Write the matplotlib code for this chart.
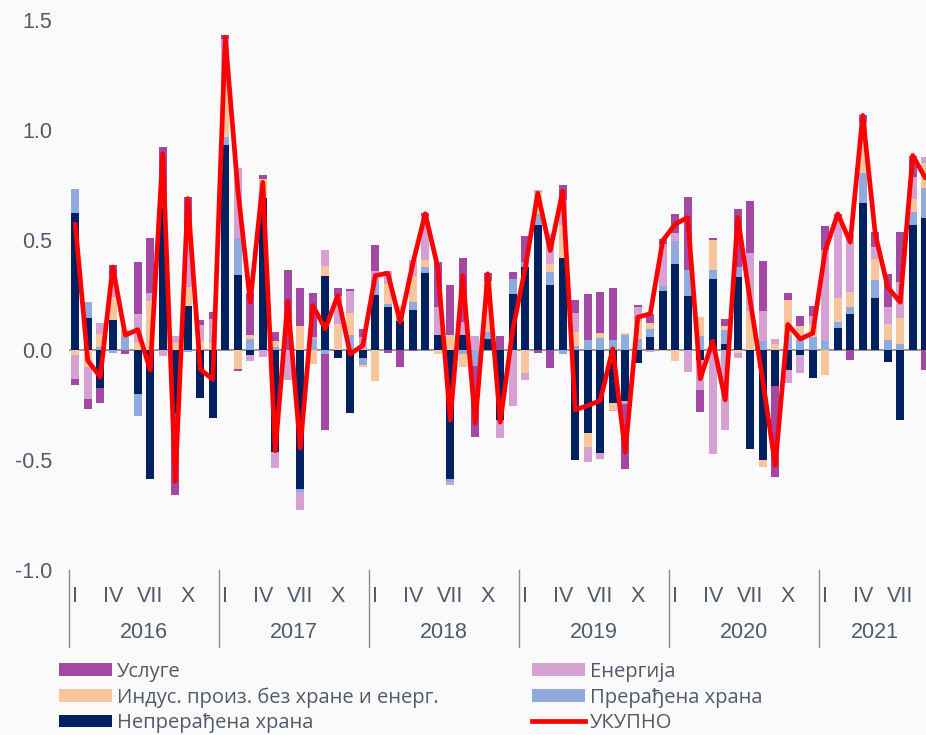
import matplotlib
matplotlib.use("Agg")
import matplotlib.pyplot as plt
import numpy as np
from matplotlib.patches import Rectangle
from matplotlib.lines import Line2D
from matplotlib.transforms import blended_transform_factory

plt.rcParams['font.family'] = ['Liberation Sans', 'DejaVu Sans']

years = ['2016', '2017', '2018', '2019', '2020', '2021']
months_per_year = [12, 12, 12, 12, 12, 9]
month_labels = ['I', 'IV', 'VII', 'X']
month_label_pos = [0, 3, 6, 9]

series_names = ['Непрерађена храна', 'Прерађена храна', 'Индус. произ. без хране и енерг.', 'Енергија', 'Услуге']
total_name = 'УКУПНО'

# Непрерађена храна
unprocessed = [
    0.62, 0.145, -0.175, 0.135, 0.0, -0.20, -0.59, 0.65, -0.29, 0.20, -0.22, -0.31,
    0.93, 0.34, -0.027, 0.69, -0.467, 0.0, -0.636, 0.0, 0.333, -0.04, -0.29, -0.04,
    0.25, 0.195, 0.13, 0.18, 0.347, 0.068, -0.588, 0.068, 0.0, 0.048, -0.32, 0.253,
    0.377, 0.564, 0.295, 0.417, -0.5, -0.379, -0.47, -0.244, -0.232, -0.062, 0.059, 0.265,
    0.39, 0.245, -0.047, 0.32, 0.023, 0.329, -0.45, -0.5, -0.168, -0.092, -0.027, -0.13,
    0.0, 0.1, 0.162, 0.665, 0.235, -0.058, -0.32, 0.568, 0.6,
]
# Прерађена храна
processed = [
    0.11, 0.07, 0.012, -0.015, 0.058, -0.10, 0.0, 0.0, 0.0, -0.01, 0.0, 0.0,
    0.035, 0.167, 0.05, 0.0, 0.01, 0.0, -0.012, 0.048, -0.02, 0.0, 0.064, -0.03,
    0.056, 0.012, 0.02, 0.035, 0.03, 0.0, -0.015, -0.02, -0.073, 0.03, 0.0, 0.068,
    0.023, 0.053, 0.056, -0.02, 0.015, 0.044, 0.053, 0.044, 0.064, 0.048, 0.035, 0.023,
    0.103, 0.118, 0.06, 0.042, 0.064, 0.048, 0.0, 0.038, 0.0, 0.064, 0.041, 0.056,
    0.038, 0.023, 0.033, 0.136, 0.083, 0.041, 0.026, 0.056, 0.136,
]
# Индус. произ. без хране и енерг.
industrial = [
    -0.026, -0.08, 0.058, 0.105, 0.0, 0.035, 0.22, 0.02, 0.03, 0.085, 0.04, 0.03,
    0.227, -0.088, 0.015, 0.083, 0.03, 0.0, 0.105, -0.065, 0.045, 0.117, 0.1, -0.01,
    -0.144, 0.09, 0.05, 0.117, 0.032, -0.02, 0.064, -0.06, 0.0, 0.235, 0.0, 0.0,
    -0.108, 0.1, 0.038, 0.147, 0.064, -0.062, 0.023, -0.03, 0.01, 0.083, 0.026, -0.005,
    -0.053, 0.0, 0.086, 0.135, 0.018, -0.017, 0.174, -0.035, 0.026, 0.16, 0.065, 0.058,
    -0.118, 0.11, 0.065, 0.16, 0.094, 0.073, 0.118, 0.06, 0.11,
]
# Енергија
energy = [
    -0.11, -0.145, 0.05, 0.10, 0.03, 0.125, 0.035, -0.03, 0.03, 0.26, 0.07, 0.11,
    0.22, 0.32, -0.023, -0.035, -0.073, -0.14, -0.083, 0.008, 0.073, 0.124, 0.1, 0.056,
    0.053, 0.06, 0.0, 0.075, 0.2, 0.124, -0.015, 0.056, 0.06, 0.0, -0.08, -0.255,
    -0.03, 0.008, 0.136, 0.114, 0.086, -0.071, -0.027, -0.006, -0.015, 0.06, -0.012, 0.19,
    0.036, -0.1, -0.136, -0.477, -0.365, -0.02, 0.264, 0.136, 0.023, -0.06, -0.08, 0.04,
    0.415, 0.367, 0.265, 0.075, 0.053, 0.079, 0.162, 0.098, 0.03,
]
# Услуге
services = [
    -0.026, -0.045, -0.068, 0.046, -0.02, 0.24, 0.25, 0.25, -0.37, 0.15, 0.025, 0.03,
    0.018, -0.01, 0.19, 0.018, 0.038, 0.36, 0.175, 0.2, -0.344, 0.04, 0.012, 0.035,
    0.118, -0.017, -0.08, -0.008, 0.01, 0.205, 0.227, 0.29, -0.326, 0.033, 0.06, 0.03,
    0.114, -0.017, -0.083, 0.068, 0.058, 0.21, 0.185, 0.236, -0.295, 0.012, 0.042, 0.023,
    0.088, 0.33, -0.1, 0.012, 0.035, 0.262, 0.235, 0.23, -0.41, 0.035, 0.045, 0.045,
    0.11, 0.015, -0.047, 0.03, 0.071, 0.148, 0.227, 0.098, -0.092,
]
# УКУПНО
total = [
    0.57, -0.05, -0.125, 0.375, 0.065, 0.09, -0.094, 0.89, -0.60, 0.686, -0.09, -0.136,
    1.42, 0.73, 0.215, 0.76, -0.46, 0.22, -0.448, 0.2, 0.094, 0.245, -0.02, 0.018,
    0.336, 0.347, 0.124, 0.39, 0.617, 0.374, -0.32, 0.336, -0.335, 0.344, -0.33, 0.09,
    0.37, 0.71, 0.45, 0.72, -0.274, -0.255, -0.232, 0.003, -0.467, 0.147, 0.162, 0.495,
    0.57, 0.6, -0.133, 0.038, -0.229, 0.6, 0.22, -0.14, -0.527, 0.114, 0.048, 0.074,
    0.45, 0.617, 0.488, 1.064, 0.525, 0.283, 0.215, 0.882, 0.78,
]

colors = ['#002060', '#8FAADC', '#F8C59D', '#D5A1D3', '#A349A4']
bg = '#FAFAFA'
tick_color = '#4F5A6B'

W, H = 926, 735
fig = plt.figure(figsize=(W / 100, H / 100), dpi=100, facecolor=bg)
ax = fig.add_axes([69 / W, (H - 569.5) / H, (W - 69) / W, (569.5 - 19.5) / H])
ax.set_facecolor(bg)

series = [unprocessed, processed, industrial, energy, services]
n = len(total)
x = np.arange(n)
pos_bottom = np.zeros(n)
neg_bottom = np.zeros(n)
for vals, col in zip(series, colors):
    v = np.array(vals)
    bottom = np.where(v >= 0, pos_bottom, neg_bottom)
    ax.bar(x, v, width=0.65, bottom=bottom, color=col, edgecolor='none', zorder=2)
    pos_bottom += np.where(v >= 0, v, 0)
    neg_bottom += np.where(v < 0, v, 0)

ax.axhline(0, color='#8C8C8C', lw=1.3, zorder=1)
ax.plot(x, total, color='#FF0000', lw=3.4, solid_joinstyle='round', solid_capstyle='round', zorder=3)

ax.set_ylim(-1.0, 1.5)
ax.set_xlim(-0.5, 68.06)
ax.set_yticks([-1.0, -0.5, 0.0, 0.5, 1.0, 1.5])
ax.set_yticklabels([f'{t:.1f}' for t in [-1.0, -0.5, 0.0, 0.5, 1.0, 1.5]])
ax.tick_params(axis='y', length=0, pad=12, labelsize=15.5, labelcolor=tick_color)
ax.set_xticks([])
for s in ax.spines.values():
    s.set_visible(False)

# multi-level category axis
trans = blended_transform_factory(ax.transData, fig.transFigure)
start = 0
for yr, nm in zip(years, months_per_year):
    sep = start - 0.5
    ax.plot([sep, sep], [(H - 570) / H, (H - 647) / H], color='#8C8C8C', lw=1.0,
            transform=trans, clip_on=False)
    for lab, p in zip(month_labels, month_label_pos):
        if p < nm:
            ax.text(start + p, (H - 596) / H, lab, transform=trans, ha='center', va='center',
                    fontsize=15.5, color=tick_color)
    ax.text(start + (nm - 1) / 2, (H - 633) / H, yr, transform=trans, ha='center', va='center',
            fontsize=15.5, color=tick_color)
    start += nm

# legend (two columns, drawn in figure pixel coordinates)
legend_items = [
    ('Услуге', colors[4], 'patch', 59, 669.5),
    ('Индус. произ. без хране и енерг.', colors[2], 'patch', 59, 695.5),
    ('Непрерађена храна', colors[0], 'patch', 59, 721.0),
    ('Енергија', colors[3], 'patch', 532, 669.5),
    ('Прерађена храна', colors[1], 'patch', 532, 695.5),
    (total_name, '#FF0000', 'line', 532, 721.0),
]
for label, col, kind, x0, yc in legend_items:
    if kind == 'patch':
        fig.add_artist(Rectangle((x0 / W, (H - yc - 6.3) / H), 53 / W, 12.6 / H,
                                 transform=fig.transFigure, facecolor=col, edgecolor='none'))
    else:
        fig.add_artist(Line2D([x0 / W, (x0 + 53) / W], [(H - yc) / H] * 2,
                              transform=fig.transFigure, color=col, lw=3.4))
    fig.text((x0 + 58) / W, (H - yc - 7) / H, label, fontsize=14.5,
             family=['Open Sans', 'DejaVu Sans'], color=tick_color, va='baseline', ha='left')

fig.savefig('out.png', dpi=100, facecolor=bg)
